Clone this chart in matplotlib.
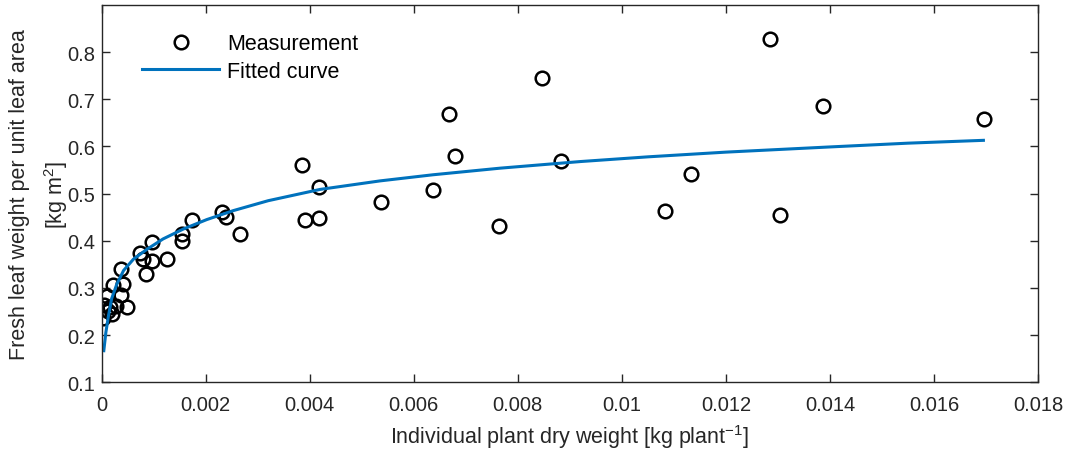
import numpy as np
import matplotlib
matplotlib.use("Agg")
from matplotlib import pyplot as plt

meas_x = [0.00004, 0.00003, 0.00010, 0.00021, 0.00038, 0.00040, 0.00038, 0.00048,
          0.00027, 0.00016, 0.00019, 0.00013, 0.00074, 0.00080, 0.00096, 0.00085,
          0.00096, 0.00125, 0.00154, 0.00154, 0.00173, 0.00231, 0.00239, 0.00266,
          0.00391, 0.00417, 0.00385, 0.00418, 0.00537, 0.00637, 0.00668, 0.00679,
          0.00763, 0.00847, 0.00883, 0.01083, 0.01133, 0.01285, 0.01304, 0.01386,
          0.01697]
meas_y = [0.264, 0.236, 0.284, 0.306, 0.340, 0.309, 0.285, 0.260,
          0.261, 0.259, 0.245, 0.252, 0.375, 0.361, 0.358, 0.330,
          0.397, 0.361, 0.414, 0.400, 0.445, 0.460, 0.450, 0.414,
          0.445, 0.448, 0.561, 0.515, 0.483, 0.507, 0.669, 0.580,
          0.431, 0.745, 0.570, 0.463, 0.541, 0.827, 0.454, 0.686,
          0.659]

# Fitted curve samples
fit_x = [0.00004, 0.00008, 0.00013, 0.00019, 0.00029, 0.00042, 0.00061, 0.00087,
         0.00118, 0.00157, 0.00202, 0.00253, 0.00320, 0.00420, 0.00535, 0.00637,
         0.00766, 0.00920, 0.01050, 0.01200, 0.01400, 0.01550, 0.01695]
fit_y = [0.167, 0.206, 0.241, 0.277, 0.308, 0.337, 0.361, 0.382,
         0.404, 0.425, 0.445, 0.464, 0.485, 0.509, 0.527, 0.540,
         0.554, 0.568, 0.578, 0.588, 0.599, 0.607, 0.613]

x_ticks = [0, 0.002, 0.004, 0.006, 0.008, 0.01, 0.012, 0.014, 0.016, 0.018]
x_labels = ["0", "0.002", "0.004", "0.006", "0.008", "0.01", "0.012", "0.014", "0.016", "0.018"]
y_ticks = [0.1, 0.2, 0.3, 0.4, 0.5, 0.6, 0.7, 0.8]

plt.rcParams['font.family'] = ['Liberation Sans', 'DejaVu Sans']
plt.rcParams['mathtext.fontset'] = 'custom'
plt.rcParams['mathtext.rm'] = 'Liberation Sans'
plt.rcParams['mathtext.it'] = 'Liberation Sans'

dark = "#262626"

fig = plt.figure(figsize=(10.73, 4.52), dpi=100)
ax = fig.add_axes([0.0948, 0.152, 0.8726, 0.8348])

ax.plot(meas_x, meas_y, "o", markersize=9.8, markerfacecolor="none",
        markeredgecolor="black", markeredgewidth=1.8, label="Measurement")
ax.plot(fit_x, fit_y, "-", color="#0072BD", linewidth=2.2, label="Fitted curve",
        solid_joinstyle="round")

ax.set_xlim(0, 0.018)
ax.set_ylim(0.1, 0.9)
ax.set_xticks(x_ticks)
ax.set_xticklabels(x_labels)
ax.set_yticks(y_ticks)
ax.set_yticklabels([f"{v:.1f}" for v in y_ticks])

ax.tick_params(direction="in", length=6, width=1, colors=dark, labelsize=14.5,
               top=True, right=True)
ax.tick_params(axis="x", pad=9)
ax.tick_params(axis="y", pad=5)
for s in ax.spines.values():
    s.set_color(dark)
    s.set_linewidth(1.0)

ax.set_xlabel("Individual plant dry weight [kg plant$^{-1}$]", fontsize=15.5,
              color=dark, labelpad=6)
ax.set_ylabel("Fresh leaf weight per unit leaf area\n[kg m$^{2}$]", fontsize=15.5,
              color=dark, linespacing=1.55, labelpad=-2)

leg = ax.legend(loc="upper left", bbox_to_anchor=(0.043, 0.925), frameon=False,
                fontsize=15.5, handlelength=3.6, handletextpad=0.37,
                labelspacing=0.3, borderpad=0, borderaxespad=0)
for t in leg.get_texts():
    t.set_color("black")

plt.savefig("out.png", dpi=100)
